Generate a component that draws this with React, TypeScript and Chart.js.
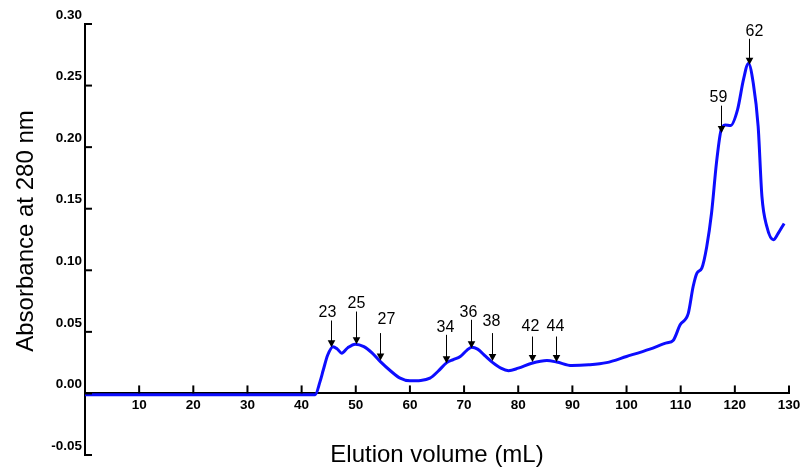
import React, { useEffect, useRef } from 'react';
import { Chart, registerables } from 'chart.js';

Chart.register(...registerables);

// ---- data ----
const volumes = [
  0, 5, 10, 20, 30, 40, 42.5, 43.4, 44.0, 44.8, 45.8, 46.6, 47.4, 48.5, 49.9,
  51.5, 53.0, 54.5, 56.5, 58.2, 60.0, 62.0, 63.7, 65.2, 66.8, 68.0, 69.3, 70.5,
  71.4, 72.5, 74.0, 75.3, 76.8, 78.2, 80.0, 82.5, 85.3, 87.1, 89.9, 93.0, 96.3,
  100.0, 104.3, 107.4, 108.6, 109.9, 111.4, 112.3, 113.0, 113.9, 114.8, 115.7,
  116.6, 117.4, 118.2, 119.2, 120.5, 121.6, 122.5, 123.4, 124.3, 125.0, 125.9,
  127.1, 128.0, 129.1,
];
const absorbance = [
  -0.001, -0.001, -0.001, -0.001, -0.001, -0.001, -0.001, 0.0096, 0.019, 0.031,
  0.038, 0.036, 0.0327, 0.037, 0.040, 0.038, 0.033, 0.026, 0.018, 0.0124,
  0.0102, 0.0105, 0.0124, 0.018, 0.025, 0.0275, 0.030, 0.035, 0.0375, 0.036,
  0.030, 0.025, 0.0205, 0.0185, 0.0205, 0.0245, 0.0267, 0.0255, 0.0226, 0.0232,
  0.025, 0.030, 0.036, 0.041, 0.043, 0.0557, 0.065, 0.0868, 0.0977, 0.1018,
  0.119, 0.1465, 0.187, 0.2128, 0.218, 0.2175, 0.2305, 0.255, 0.268, 0.252,
  0.217, 0.16, 0.1356, 0.1248, 0.130, 0.138,
];

// axis ranges / ticks
const xMin = 0;
const xMax = 130;
const xStep = 10;
const yMin = -0.05;
const yMax = 0.3;
const yStep = 0.05;

// fraction arrows (label, elution volume, absorbance at arrow tip, absorbance at arrow top)
const fractionLabels = ['23', '25', '27', '34', '36', '38', '42', '44', '59', '62'];
const fractionVolumes = [45.4, 50.1, 54.5, 66.6, 71.2, 75.2, 82.6, 87.0, 117.4, 122.7];
const fractionTips = [0.0376, 0.040, 0.0267, 0.0246, 0.0367, 0.0264, 0.0256, 0.0256, 0.2115, 0.267];
const fractionTops = [0.0592, 0.0665, 0.049, 0.0476, 0.0598, 0.049, 0.0462, 0.0462, 0.2337, 0.288];

const yTitle = 'Absorbance at 280 nm';
const xTitle = 'Elution volume (mL)';

// ---- annotation styling (pixels) ----
const labelDx = [-4, 0, 6, -1, -3, -1, -2, -1, -3, 5];
const labelDy = [7.5, 7.5, 13, 7.5, 7.5, 11, 10, 10, 8.5, 7.5];

const FONT = 'Arial, "Liberation Sans", sans-serif';

export default function App() {
  const ref = useRef<HTMLCanvasElement>(null);

  useEffect(() => {
    const canvas = ref.current;
    if (!canvas) return;

    const overlay = {
      id: 'overlay',
      afterDraw(chart: any) {
        const c = chart.ctx as CanvasRenderingContext2D;
        const xs = chart.scales.x;
        const ys = chart.scales.y;
        const area = chart.chartArea;
        c.save();
        c.fillStyle = '#000';
        c.strokeStyle = '#000';

        // axis tick marks (pointing inward)
        c.lineWidth = 2;
        const y0 = ys.getPixelForValue(0);
        xs.ticks.forEach((t: any) => {
          if (t.value === 0) return;
          const px = xs.getPixelForValue(t.value);
          c.beginPath();
          c.moveTo(px, y0);
          c.lineTo(px, y0 - 8);
          c.stroke();
        });
        ys.ticks.forEach((t: any) => {
          const py = ys.getPixelForValue(t.value);
          c.beginPath();
          c.moveTo(area.left, py);
          c.lineTo(area.left + 7, py);
          c.stroke();
        });

        // fraction arrows
        c.lineWidth = 1;
        c.font = '16px ' + FONT;
        c.textAlign = 'center';
        c.textBaseline = 'middle';
        fractionLabels.forEach((lab, i) => {
          const x = Math.round(xs.getPixelForValue(fractionVolumes[i])) + 0.5;
          const yTip = ys.getPixelForValue(fractionTips[i]);
          const yTop = ys.getPixelForValue(fractionTops[i]);
          c.beginPath();
          c.moveTo(x, yTop);
          c.lineTo(x, yTip - 6);
          c.stroke();
          c.beginPath();
          c.moveTo(x - 3.8, yTip - 7);
          c.lineTo(x + 3.8, yTip - 7);
          c.lineTo(x, yTip);
          c.closePath();
          c.fill();
          c.fillText(lab, x + labelDx[i], yTop - labelDy[i]);
        });

        // axis titles
        c.font = '24px ' + FONT;
        c.textBaseline = 'alphabetic';
        c.fillText(xTitle, (area.left + area.right) / 2, 462);
        c.translate(26, 231);
        c.rotate(-Math.PI / 2);
        c.textBaseline = 'middle';
        c.fillText(yTitle, 0, 0);
        c.restore();
      },
    };

    const tickFont = { family: FONT, size: 13.5, weight: 'bold' as const };

    const chart = new Chart(canvas, {
      type: 'line',
      data: {
        datasets: [
          {
            data: volumes.map((v, i) => ({ x: v, y: absorbance[i] })),
            borderColor: '#0d0dff',
            borderWidth: 3,
            pointRadius: 0,
            cubicInterpolationMode: 'monotone',
            fill: false,
          },
        ],
      },
      options: {
        responsive: false,
        animation: false,
        layout: { padding: { left: 0, top: 24, right: 18, bottom: 21 } },
        plugins: {
          legend: { display: false },
          tooltip: { enabled: false },
          title: { display: false },
        },
        scales: {
          x: {
            type: 'linear',
            position: { y: 0 } as any,
            min: xMin,
            max: xMax,
            border: { display: true, color: '#000', width: 2 },
            grid: { display: false, drawTicks: false },
            ticks: {
              stepSize: xStep,
              padding: 4,
              color: '#000',
              font: tickFont,
              maxRotation: 0,
              autoSkip: false,
              callback: (v: any) => (Number(v) === 0 ? null : String(v)),
            },
          },
          y: {
            type: 'linear',
            position: 'left',
            min: yMin,
            max: yMax,
            afterFit: (s: any) => {
              s.width = 85;
            },
            border: { display: true, color: '#000', width: 2 },
            grid: { display: false, drawTicks: false },
            ticks: {
              stepSize: yStep,
              padding: 3,
              labelOffset: -9,
              color: '#000',
              font: tickFont,
              callback: (v: any) => {
                const n = Math.abs(Number(v)) < 1e-9 ? 0 : Number(v);
                return n.toFixed(2);
              },
            },
            title: { display: false },
          },
        },
      },
      plugins: [overlay],
    });

    return () => chart.destroy();
  }, []);

  return (
    <div style={{ position: 'absolute', left: 0, top: 0, width: 807, height: 476, background: '#fff' }}>
      <canvas ref={ref} width={807} height={476} style={{ display: 'block' }} />
    </div>
  );
}
